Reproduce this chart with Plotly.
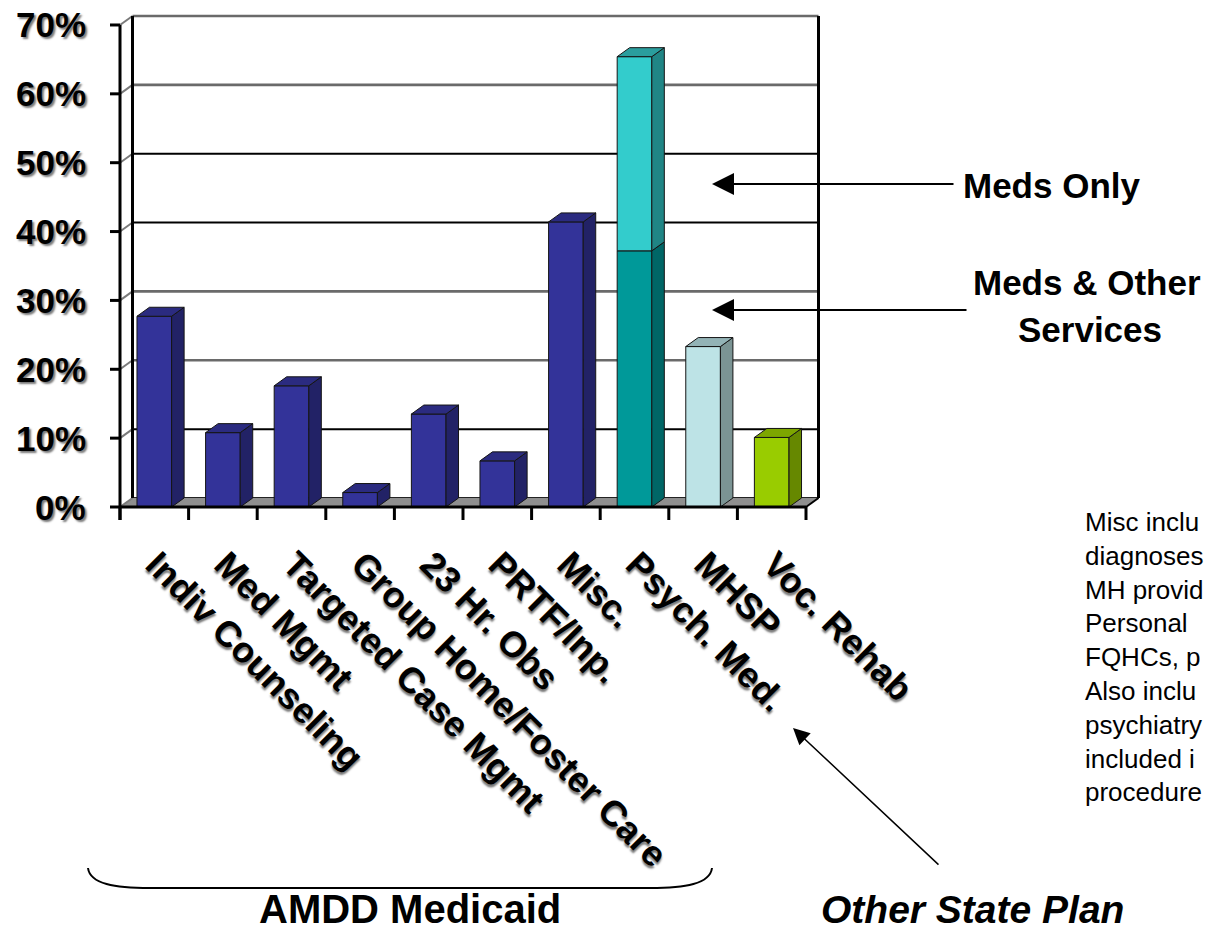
import plotly.graph_objects as go

# ---------------------------------------------------------------- data
categories = ["Indiv Counseling", "Med Mgmt", "Targeted Case Mgmt",
              "Group Home/Foster Care", "23 Hr. Obs", "PRTF/Inp.", "Misc.",
              "Psych. Med.", "MHSP", "Voc. Rehab"]
# share of clients (%) - base segment ("Meds & Other Services" for Psych. Med.)
base_pct = [27.7, 10.8, 17.6, 2.1, 13.5, 6.7, 41.4, 37.2, 23.3, 10.1]
# stacked "Meds Only" segment (Psych. Med. only)
meds_only_pct = [0, 0, 0, 0, 0, 0, 0, 28.2, 0, 0]
y_ticks = [0, 10, 20, 30, 40, 50, 60, 70]
y_tick_labels = ["0%", "10%", "20%", "30%", "40%", "50%", "60%", "70%"]

# ---------------------------------------------------------------- styling
# (front, side, top) shades for each 3-D column
NAVY = ("#333399", "#222266", "#2b2b80")
TEAL = ("#009999", "#006666", "#008080")
LIGHT = ("#bde3e6", "#7b9494", "#93b3b6")
GREEN = ("#99cc00", "#668800", "#7da600")
CYAN = ("#33cccc", "#208585", "#2a9e9e")
base_colors = [NAVY] * 7 + [TEAL, LIGHT, GREEN]

W, H = 1217, 936
FONT = "Liberation Sans, Arial, sans-serif"
SHADOW = "2px 2px 2px #7a7a7a"

# pixel geometry of the chart box
FRONT_X0 = 120.0      # left edge of the front face (value axis)
CAT_PX = 68.6         # width of one category slot
ZERO_PY = 507.0       # front floor line
PX_PER_PCT = 6.886
BOX = dict(left=100, right=835, top=6, bottom=521)


def x_of(px):
    return (px - FRONT_X0) / CAT_PX - 0.5


def y_of(py):
    return (ZERO_PY - py) / PX_PER_PCT


dx = 12.5 / CAT_PX          # depth offset in category units
dy = 9.0 / PX_PER_PCT       # depth offset in percent units
bar_w = 0.505
x_left, x_right = -0.5, len(categories) - 0.5
y_max = y_ticks[-1]

fig = go.Figure()


def poly(xs, ys, fill, line="#151515", lw=1.0):
    fig.add_trace(go.Scatter(
        x=list(xs) + [xs[0]], y=list(ys) + [ys[0]], mode="lines",
        fill="toself", fillcolor=fill, line=dict(color=line, width=lw),
        hoverinfo="skip", showlegend=False))


def seg(xs, ys, color, width):
    fig.add_trace(go.Scatter(
        x=xs, y=ys, mode="lines", line=dict(color=color, width=width),
        hoverinfo="skip", showlegend=False))


# back wall gridlines
for v in y_ticks:
    grey = v in (70, 60, 30, 20)
    seg([x_left + dx, x_right + dx], [v + dy, v + dy],
        "#6a6a6a" if grey else "#000000", 2.6 if grey else 2.0)

# floor
poly([x_left, x_right, x_right + dx, x_left + dx], [0, 0, dy, dy],
     "#8f8f8f", line="#8f8f8f", lw=0.5)

# side wall strokes and wall edges
for v in y_ticks:
    seg([x_left, x_left + dx], [v, v + dy], "#7a7a7a", 2.0)
seg([x_left + dx, x_left + dx], [dy, y_max + dy], "#000000", 3)
seg([x_right + dx, x_right + dx], [dy, y_max + dy], "#000000", 3)
seg([x_right, x_right + dx], [0, dy], "#000000", 2)


def column(i, bottom, top, shades, draw_top=True):
    front, side, cap = shades
    xl, xr = i - bar_w / 2, i + bar_w / 2
    poly([xl, xr, xr, xl], [bottom, bottom, top, top], front)
    poly([xr, xr + dx, xr + dx, xr], [bottom, bottom + dy, top + dy, top], side)
    if draw_top:
        poly([xl, xr, xr + dx, xl + dx], [top, top, top + dy, top + dy], cap)


for i, (b, m) in enumerate(zip(base_pct, meds_only_pct)):
    column(i, 0, b, base_colors[i], draw_top=(m == 0))
    if m > 0:
        column(i, b, b + m, CYAN)

# front axes, tick marks
y_tick_end = y_of(BOX["bottom"] - 1)
seg([x_left, x_right], [0, 0], "#000000", 3)
for k in range(len(categories) + 1):
    seg([x_left + k, x_left + k], [0, y_tick_end], "#000000", 3)
seg([x_left, x_left], [y_tick_end, y_max], "#000000", 3)
for v in y_ticks:
    seg([x_of(110), x_left], [v, v], "#000000", 3)

# value-axis labels
annotations = []
for v, lab in zip(y_ticks, y_tick_labels):
    annotations.append(dict(
        x=88 / W, xref="paper", xanchor="right", y=v, yref="y", yanchor="middle",
        text=lab, showarrow=False,
        font=dict(family=FONT, size=35, color="#000000", weight="bold",
                  shadow=SHADOW)))


def px_ann(px, py, text, size, xanchor="left", style="normal", align="left"):
    annotations.append(dict(
        x=px / W, y=1 - py / H, xref="paper", yref="paper", xanchor=xanchor,
        yanchor="middle", text=text, showarrow=False, align=align,
        borderpad=0, borderwidth=0,
        font=dict(family=FONT, size=size, color="#000000", weight="bold",
                  style=style)))


def arrow(tip, tail, width=2.0, size=1.4):
    annotations.append(dict(
        x=tip[0] / W, y=1 - tip[1] / H, xref="paper", yref="paper",
        ax=tail[0] - tip[0], ay=tail[1] - tip[1], axref="pixel", ayref="pixel",
        text="", showarrow=True, arrowhead=2, arrowsize=size,
        arrowwidth=width, arrowcolor="#000000", standoff=0))


px_ann(963, 186, "Meds Only", 35)
px_ann(1087, 282, "Meds & Other", 35, xanchor="center")
px_ann(1090, 329, "Services", 35, xanchor="center")
px_ann(410, 909, "AMDD Medicaid", 40, xanchor="center")
px_ann(972, 909, "Other State Plan", 39, xanchor="center", style="italic")

arrow((712, 184), (955, 184), size=2.2)
arrow((712, 310), (968, 310), size=2.2)
arrow((793, 728), (940, 866), width=1.5, size=2.2)

# side note, as far as it fits on the page
note_lines = ["Misc inclu", "diagnoses", "MH provid", "Personal",
              "FQHCs, p", "Also inclu", "psychiatry", "included i",
              "procedure"]
annotations.append(dict(
    x=1083 / W, y=1 - 505 / H, xref="paper", yref="paper", xanchor="left",
    yanchor="top", align="left", showarrow=False, text="<br>".join(note_lines),
    font=dict(family=FONT, size=26, color="#000000")))

# brace under the AMDD Medicaid categories
def pxp(px, py):
    return f"{px / W:.5f},{1 - py / H:.5f}"


brace = (f"M {pxp(88, 868)} C {pxp(90, 884)} {pxp(115, 888)} {pxp(150, 888)} "
         f"L {pxp(650, 888)} C {pxp(685, 888)} {pxp(710, 884)} {pxp(712, 868)}")

fig.update_layout(
    width=W, height=H, margin=dict(l=0, r=0, t=0, b=0, autoexpand=False),
    paper_bgcolor="#ffffff", plot_bgcolor="#ffffff",
    showlegend=False, annotations=annotations,
    shapes=[dict(type="path", path=brace, xref="paper", yref="paper",
                 line=dict(color="#000000", width=2))],
    xaxis=dict(domain=[BOX["left"] / W, BOX["right"] / W],
               range=[x_of(BOX["left"]), x_of(BOX["right"])],
               tickmode="array", tickvals=list(range(len(categories))),
               ticktext=categories, tickangle=45, ticks="",
               showgrid=False, zeroline=False, showline=False,
               automargin=False, ticklabelstandoff=14, ticklabelshift=2,
               tickfont=dict(family=FONT, size=36, color="#000000",
                             weight="bold", shadow=SHADOW)),
    yaxis=dict(domain=[1 - BOX["bottom"] / H, 1 - BOX["top"] / H],
               range=[y_of(BOX["bottom"]), y_of(BOX["top"])],
               showticklabels=False, ticks="", showgrid=False,
               zeroline=False, showline=False, automargin=False),
)

fig.write_html("out.html")
